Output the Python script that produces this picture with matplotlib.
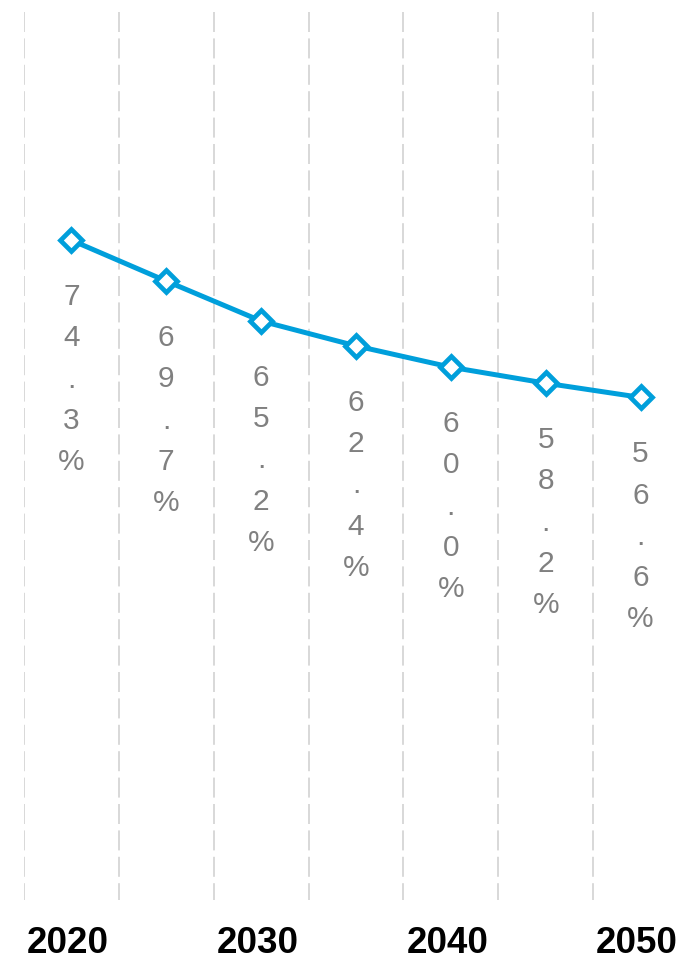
import matplotlib.pyplot as plt
import matplotlib as mpl
from matplotlib.transforms import ScaledTranslation

mpl.rcParams['font.family'] = ['Liberation Sans', 'DejaVu Sans']

years = ['2020', '2025', '2030', '2035', '2040', '2045', '2050']
values = [74.3, 69.7, 65.2, 62.4, 60.0, 58.2, 56.6]
tick_labels = ['2020', '', '2030', '', '2040', '', '2050']

blue = '#009FDB'
grey = '#808080'

fig = plt.figure(figsize=(6.86, 9.56), dpi=100)
ax = fig.add_axes([24 / 686, 56 / 956, 664 / 686, 888 / 956])

x = list(range(len(years)))
ax.set_xlim(-0.5, len(years) - 0.5)
ax.set_ylim(0, 100)

# dashed separators between categories, drawn top-down
ax.vlines([i - 0.5 for i in x], 100, 0, colors='#d9d9d9', linewidth=1.44,
          linestyles=[(0, (10, 3.2))], zorder=1)

ax.plot(x, values, color=blue, linewidth=3.6, marker='D', markersize=11.5,
        markerfacecolor='white', markeredgecolor=blue, markeredgewidth=3.4,
        zorder=3, clip_on=False)

for xi, v in zip(x, values):
    label = '\n'.join(f'{v:.1f}%')
    ax.annotate(label, (xi, v), xytext=(0, -31), textcoords='offset points',
                ha='center', va='top', fontsize=21.5, color=grey, linespacing=1.6)

ax.set_xticks(x)
ax.set_xticklabels(tick_labels, fontsize=26.5, fontweight='bold', color='black')
ax.tick_params(axis='x', length=0, pad=19)
shift = ScaledTranslation(-3.5 / 100, 0, fig.dpi_scale_trans)
for t in ax.get_xticklabels():
    t.set_transform(t.get_transform() + shift)
ax.set_yticks([])
for s in ax.spines.values():
    s.set_visible(False)

fig.savefig('out.png', dpi=100)
